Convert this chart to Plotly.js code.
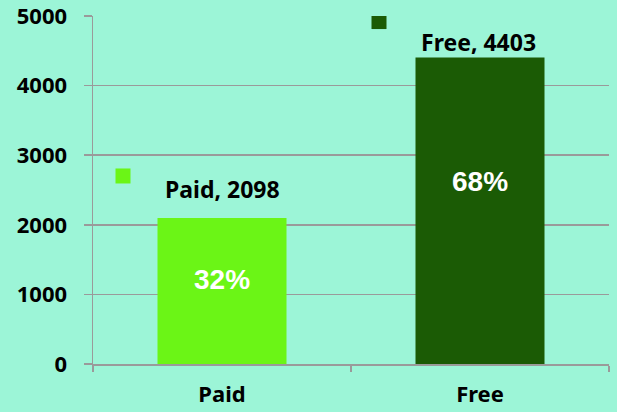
<!DOCTYPE html>
<html><head><meta charset="utf-8">
<script src="https://cdn.plot.ly/plotly-3.0.1.min.js"></script>
<style>html,body{margin:0;padding:0;background:#9cf5d7}</style>
</head><body><div id="chart" style="width:617px;height:412px"></div>
<script>
// ---- data ----
const categories = ["Paid", "Free"];
const counts = [2098, 4403];
const barColors = ["#6bf516", "#1b5b05"];
const yTickValues = [0, 1000, 2000, 3000, 4000, 5000];

// ---- layout constants (pixel offsets, not data) ----
const labelShiftY = [29, 16];
const labelShiftX = [0, -2];
const pctShiftY = [11, 29];
const keyOffsetX = [-99, -101];
const keyOffsetY = [42, 36];
const KEY = 15;

const total = counts.reduce((a, b) => a + b, 0);
const pctLabels = counts.map(v => Math.round(v / total * 100) + "%");

const bg = "#9cf5d7";
const grid = "#9a9a9a";
const FAM = "Noto Sans, Open Sans, sans-serif";
const yTickFont = {family: FAM, size: 22, color: "#000", weight: 700};
const xTickFont = {family: FAM, size: 22, color: "#000", weight: 700};

const trace = {
  type: "bar",
  x: categories,
  y: counts,
  marker: {color: barColors, line: {width: 0}},
  hoverinfo: "none"
};

const annotations = [];
const shapes = [];
categories.forEach((c, i) => {
  annotations.push({
    x: c, y: counts[i], xref: "x", yref: "y",
    text: c + ", " + counts[i], showarrow: false,
    yanchor: "middle", xanchor: "center",
    yshift: labelShiftY[i], xshift: labelShiftX[i],
    font: {family: FAM, size: 23, color: "#000", weight: 700}
  });
  annotations.push({
    x: c, y: counts[i] / 2, xref: "x", yref: "y",
    text: pctLabels[i], showarrow: false,
    yanchor: "middle", xanchor: "center",
    yshift: pctShiftY[i],
    font: {family: "Liberation Sans, Arial, sans-serif", size: 28, color: "#fff", weight: 700}
  });
  shapes.push({
    type: "rect", xref: "x", yref: "y",
    xsizemode: "pixel", ysizemode: "pixel",
    xanchor: c, yanchor: counts[i],
    x0: keyOffsetX[i] - KEY / 2, x1: keyOffsetX[i] + KEY / 2,
    y0: keyOffsetY[i] - KEY / 2, y1: keyOffsetY[i] + KEY / 2,
    fillcolor: barColors[i], line: {width: 0}
  });
});

const layout = {
  width: 617, height: 412,
  margin: {l: 93, r: 8, t: 16, b: 48, pad: 0},
  paper_bgcolor: bg, plot_bgcolor: bg,
  showlegend: false,
  bargap: 0.5,
  xaxis: {
    type: "category",
    tickson: "boundaries",
    ticks: "outside", ticklen: 6, tickwidth: 1.5, tickcolor: grid,
    showline: true, linecolor: grid, linewidth: 1.5,
    showgrid: false, zeroline: false,
    tickfont: xTickFont,
    ticklabelstandoff: 10,
    ticklabeloverflow: "allow"
  },
  yaxis: {
    range: [0, 5000],
    tickvals: yTickValues,
    ticktext: yTickValues.map(String),
    ticks: "outside", ticklen: 8, tickwidth: 1.5, tickcolor: grid,
    showline: true, linecolor: grid, linewidth: 1.5,
    showgrid: true, gridcolor: grid, gridwidth: 1.5,
    zeroline: false,
    tickfont: yTickFont,
    ticklabelstandoff: 12,
    ticklabeloverflow: "allow"
  },
  annotations: annotations,
  shapes: shapes
};

Plotly.newPlot("chart", [trace], layout, {displayModeBar: false, staticPlot: true});
</script>
</body></html>
